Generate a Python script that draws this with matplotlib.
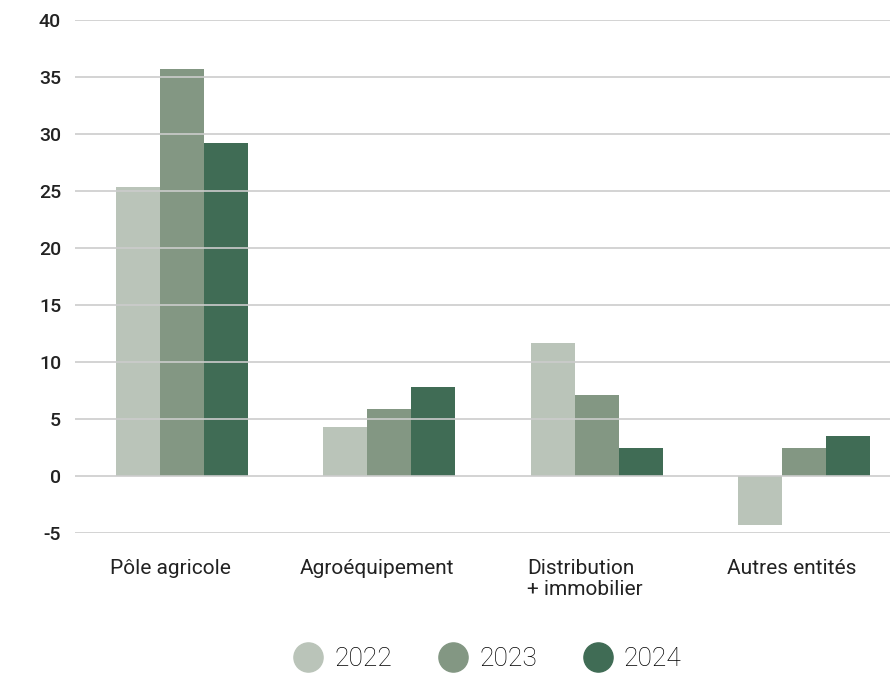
import numpy as np
import matplotlib.pyplot as plt
from matplotlib.lines import Line2D
import matplotlib.transforms as mtransforms

# données
categories = ['Pôle agricole', 'Agroéquipement', 'Distribution\n+ immobilier', 'Autres entités']
years = ['2022', '2023', '2024']
v2022 = [25.4, 4.3, 11.7, -4.3]
v2023 = [35.7, 5.9, 7.1, 2.5]
v2024 = [29.2, 7.8, 2.5, 3.5]
yticks = [-5, 0, 5, 10, 15, 20, 25, 30, 35, 40]

colors = ['#bac4b9', '#839783', '#406c55']
plt.rcParams['font.family'] = ['Roboto', 'DejaVu Sans']

fig = plt.figure(figsize=(8.9, 6.73), dpi=100)
ax = fig.add_axes([0.0843, 0.208, 0.9157, 0.762])

x = np.arange(len(categories))
w = 0.212
for i, vals in enumerate([v2022, v2023, v2024]):
    ax.bar(x + (i - 1) * w, vals, width=w, color=colors[i], zorder=2)

ax.set_ylim(-5, 40)
ax.set_xlim(-0.516, 3.415)
ax.set_yticks(yticks)
ax.set_yticklabels([str(t) for t in yticks], fontsize=14, color='#222222', fontweight='medium')
ax.yaxis.grid(True, color='#cccccc', linewidth=1.2, zorder=3)
ax.set_axisbelow(False)
ax.tick_params(axis='y', length=0, pad=10)
ax.tick_params(axis='x', length=0, pad=19)
ax.set_xticks(x)
ax.set_xticklabels(categories, fontsize=15, color='#222222', va='top',
                   multialignment='left', linespacing=1.1)
# léger décalage vers la gauche des étiquettes
shift = mtransforms.ScaledTranslation(-12 / 100, 0, fig.dpi_scale_trans)
for lab in ax.get_xticklabels():
    lab.set_transform(lab.get_transform() + shift)
for s in ax.spines.values():
    s.set_visible(False)

handles = [Line2D([], [], marker='o', linestyle='none', markersize=21,
                  markerfacecolor=c, markeredgecolor=c) for c in colors]
fig.legend(handles, years, loc='lower center', ncol=3, frameon=False,
           bbox_to_anchor=(0.541, -0.032), handletextpad=0.0,
           columnspacing=1.3, prop={'family': 'Roboto', 'weight': 'light', 'size': 19})

fig.savefig('out.png', dpi=100)
